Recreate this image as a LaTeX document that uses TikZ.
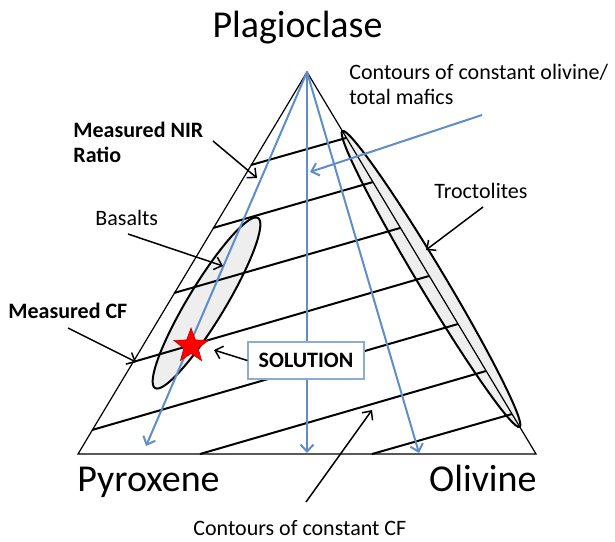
\documentclass[tikz,border=0pt]{standalone}
\usepackage{fontspec}
\setmainfont{Carlito}
\usetikzlibrary{arrows.meta,shapes.geometric}
\definecolor{mafic}{RGB}{94,142,200}
\definecolor{boxline}{RGB}{140,172,212}
\definecolor{rockfill}{RGB}{238,238,238}
\begin{document}
\begin{tikzpicture}[x=0.5pt,y=-0.5pt, >={Straight Barb[length=3.5pt,width=6.5pt]},
  every node/.style={font=\fontsize{11}{12.3}\selectfont, inner sep=0pt},
  corner/.style={font=\fontsize{19}{23}\selectfont},
  note/.style={anchor=base west, align=left},
  boldnote/.style={note, font=\bfseries\fontsize{11}{12.3}\selectfont},
  edge/.style={line width=0.6pt},
  contour/.style={line width=1pt},
  ratio/.style={mafic, line width=1pt, ->},
  rock/.style={draw, line width=1pt, fill=rockfill},
  pointer/.style={->, line width=0.75pt}]
\useasboundingbox (0,0) rectangle (615,541);
% corners of the ternary
\coordinate (plag) at (307,72);
\coordinate (pyx) at (78,454);
\coordinate (oliv) at (536,454);
% rock fields
\draw[rock, rotate around={58.8:(206.5,303)}] (206.5,303) ellipse [x radius=99.4, y radius=18.5];
\draw[rock, rotate around={-59.06:(431,279)}] (431,279) ellipse [x radius=172.5, y radius=13];
\draw[edge] (pyx) -- (oliv) -- (plag) -- cycle;
% contours of constant CF
\foreach \xa/\ya/\xb/\yb in {251/165/346/138, 213/228/373/182, 174/293/400/228,
    133/362/429/276, 92/430/458/324, 200/454/486/371, 372/454/512/414}
  \draw[contour] (\xa,\ya) -- (\xb,\yb);
% contours of constant olivine/total mafics
\foreach \xe/\ye in {146/446, 307/453, 419/453}
  \draw[ratio] (plag) -- (\xe,\ye);
% solution
\node[draw=boxline, fill=white, line width=0.6pt, minimum width=58pt, minimum height=18.5pt,
  font=\bfseries\fontsize{11}{12.3}\selectfont] (sol) at (306,360.5) {SOLUTION};
\node[star, star points=5, star point ratio=2.4, fill=red, draw=red!75!black,
  line width=0.3pt, minimum size=18pt] (hit) at (191,346) {};
% labels
\node[corner, anchor=base] (plagname) at (297.5,37) {Plagioclase};
\node[corner, anchor=base west] (pyxname) at (77,491) {Pyroxene};
\node[corner, anchor=base east] (olivname) at (537,491) {Olivine};
\node[note] (ratiolabel) at (349,104) {Contours of constant olivine/\\total mafics};
\node[boldnote] (nir) at (73,162) {Measured NIR\\Ratio};
\node[note] (basalt) at (95,225) {Basalts};
\node[note] (troct) at (434,198) {Troctolites};
\node[boldnote] (cf) at (8,318) {Measured CF};
\node[note] (cflabel) at (193,535) {Contours of constant CF};
% arrow ends
\coordinate (nirfrom) at (213,141);
\coordinate (nirto) at (257,178);
\coordinate (basaltfrom) at (128,234);
\coordinate (basaltto) at (223,266);
\coordinate (cffrom) at (68,328);
\coordinate (cfto) at (136,362);
\coordinate (troctfrom) at (483,207);
\coordinate (troctto) at (426,250);
\coordinate (cflinefrom) at (306,502);
\coordinate (cflineto) at (372,410);
\coordinate (solto) at (214,350);
\coordinate (ratiofrom) at (482,115);
\coordinate (ratioto) at (310,172);
\draw[pointer] (nirfrom) -- (nirto);
\draw[pointer] (basaltfrom) -- (basaltto);
\draw[pointer] (cffrom) -- (cfto);
\draw[pointer] (troctfrom) -- (troctto);
\draw[pointer] (cflinefrom) -- (cflineto);
\draw[pointer] (sol.west) -- (solto);
\draw[ratio] (ratiofrom) -- (ratioto);
\end{tikzpicture}
\end{document}
